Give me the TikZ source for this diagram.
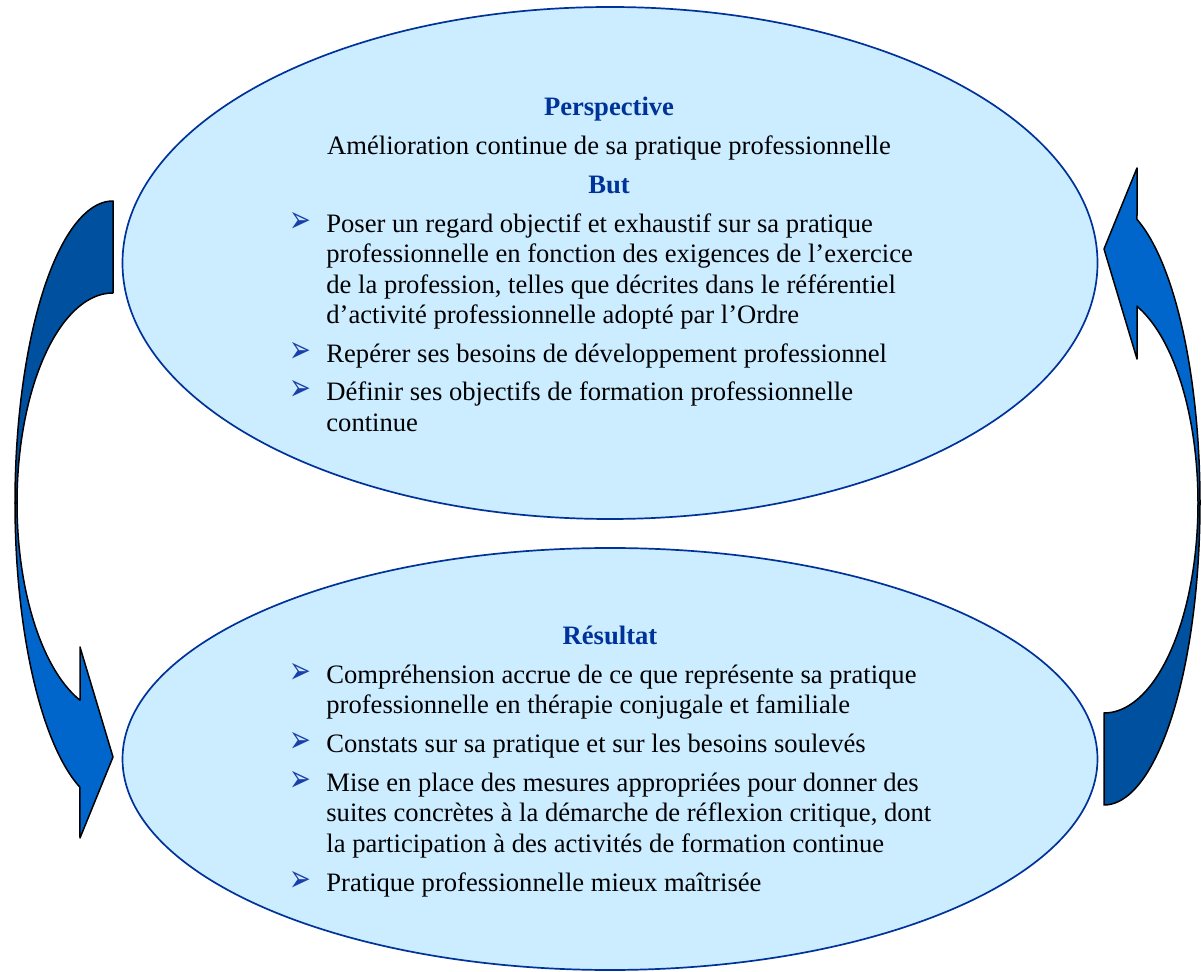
\documentclass[tikz,border=0pt]{standalone}
\usepackage{graphicx}
\usepackage{fontspec}
\setmainfont{Liberation Serif}
\newfontfamily\dejavu{DejaVu Sans}
\usetikzlibrary{shapes.geometric}
\definecolor{ellfill}{HTML}{CCECFF}
\definecolor{ellline}{HTML}{003399}
\definecolor{headblue}{HTML}{003399}
\definecolor{bulblue}{HTML}{1A3FA8}
\definecolor{arrdark}{HTML}{0050A0}
\definecolor{arrlight}{HTML}{0066CC}
\newcommand{\bulletglyph}{\scalebox{1}[1.45]{➢}}
\begin{document}
\begin{tikzpicture}[x=0.5pt,y=-0.5pt,
  ell/.style={ellipse, draw=ellline, fill=ellfill, line width=0.85pt, inner sep=0pt},
  txt/.style={anchor=base west, inner sep=0pt, font=\fontsize{13.3}{15.15}\selectfont},
  ctr/.style={anchor=base, inner sep=0pt, font=\fontsize{13.3}{15.15}\selectfont},
  ttl/.style={anchor=base, inner sep=0pt, text=headblue, font=\fontsize{13.3}{15.15}\selectfont\bfseries},
  bul/.style={anchor=base west, inner sep=0pt, text=bulblue, font=\dejavu\fontsize{13}{14}\selectfont},
  arrpart/.style={draw=black, line width=0.75pt, line join=round}
]
\useasboundingbox (0,0) rectangle (1201,972);

% ellipses
\node[ell, minimum width=487.5pt, minimum height=256pt] (topell) at (610,263) {};
\node[ell, minimum width=487.5pt, minimum height=211pt] (botell) at (610,759) {};

% left curved arrow (top -> bottom)
\path[arrpart, fill=arrdark]
  plot[domain=-90:-180, samples=80, variable=\t] ({113+98*cos(\t)},{503+302*sin(\t)})
  -- plot[domain=-180:-90, samples=80, variable=\t] ({113+96*cos(\t)},{503+210*sin(\t)})
  -- cycle;
\path[arrpart, fill=arrlight]
  plot[domain=180:109.7, samples=80, variable=\t] ({113+98*cos(\t)},{503+302*sin(\t)})
  -- (80,838) -- (113,757) -- (80,647) -- (80,700)
  -- plot[domain=110.1:180, samples=80, variable=\t] ({113+96*cos(\t)},{503+210*sin(\t)})
  -- cycle;

% right curved arrow (bottom -> top)
\path[arrpart, fill=arrdark]
  plot[domain=90:0, samples=80, variable=\t] ({1104+96*cos(\t)},{503+302*sin(\t)})
  -- plot[domain=0:90, samples=80, variable=\t] ({1104+94*cos(\t)},{503+210*sin(\t)})
  -- cycle;
\path[arrpart, fill=arrlight]
  plot[domain=0:-69.9, samples=80, variable=\t] ({1104+96*cos(\t)},{503+302*sin(\t)})
  -- (1137,168) -- (1104,249) -- (1137,359) -- (1137,306)
  -- plot[domain=-69.45:0, samples=80, variable=\t] ({1104+94*cos(\t)},{503+210*sin(\t)})
  -- cycle;

% top ellipse text
\node[ttl] (persp) at (609,116) {Perspective};
\node[ctr] (amel) at (609,155) {Amélioration continue de sa pratique professionnelle};
\node[ttl] (but) at (609,194) {But};
\node[bul] (tb1) at (289,233) {\bulletglyph};
\node[txt] (t1a) at (326,233) {Poser un regard objectif et exhaustif sur sa pratique};
\node[txt] (t1b) at (326,263) {professionnelle en fonction des exigences de l’exercice};
\node[txt] (t1c) at (326,294) {de la profession, telles que décrites dans le référentiel};
\node[txt] (t1d) at (326,324) {d’activité professionnelle adopté par l’Ordre};
\node[bul] (tb2) at (289,363) {\bulletglyph};
\node[txt] (t2a) at (326,363) {Repérer ses besoins de développement professionnel};
\node[bul] (tb3) at (289,401) {\bulletglyph};
\node[txt] (t3a) at (326,401) {Définir ses objectifs de formation professionnelle};
\node[txt] (t3b) at (326,432) {continue};

% bottom ellipse text
\node[ttl] (result) at (610,645) {Résultat};
\node[bul] (bb1) at (289,684) {\bulletglyph};
\node[txt] (b1a) at (326,684) {Compréhension accrue de ce que représente sa pratique};
\node[txt] (b1b) at (326,714) {professionnelle en thérapie conjugale et familiale};
\node[bul] (bb2) at (289,753) {\bulletglyph};
\node[txt] (b2a) at (326,753) {Constats sur sa pratique et sur les besoins soulevés};
\node[bul] (bb3) at (289,792) {\bulletglyph};
\node[txt] (b3a) at (326,792) {Mise en place des mesures appropriées pour donner des};
\node[txt] (b3b) at (326,822) {suites concrètes à la démarche de réflexion critique, dont};
\node[txt] (b3c) at (326,853) {la participation à des activités de formation continue};
\node[bul] (bb4) at (289,892) {\bulletglyph};
\node[txt] (b4a) at (326,892) {Pratique professionnelle mieux maîtrisée};
\end{tikzpicture}
\end{document}
